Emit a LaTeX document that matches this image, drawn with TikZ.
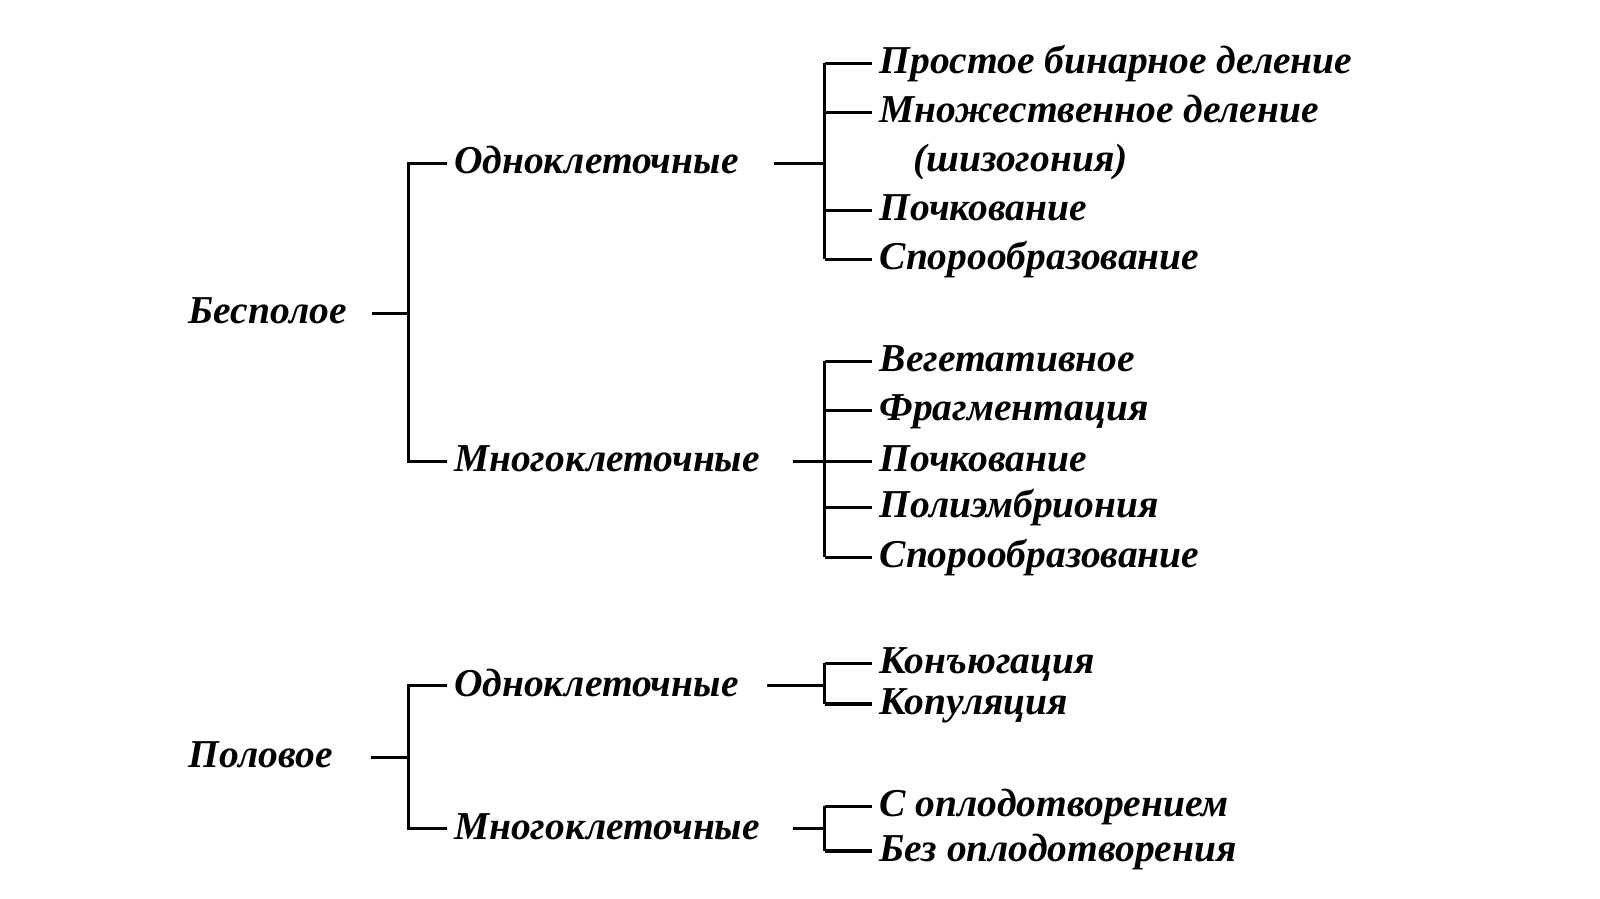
\documentclass[tikz,border=0pt]{standalone}
\usepackage{fontspec}
\setmainfont{Liberation Serif}
\usetikzlibrary{calc}
\tikzset{
 lbl/.style={font=\fontsize{39.5}{47}\selectfont\bfseries\itshape, inner ysep=0pt, inner xsep=7pt, text height=27pt, text depth=6pt, anchor=west},
 brk/.style={black, line width=3.2pt}
}

\begin{document}
\begin{tikzpicture}[x=1.0204pt,y=-1.0204pt]
\useasboundingbox (0,0) rectangle (1568,881);
% Бесполое
\node[lbl] (bes) at (178,307) {Бесполое};
\node[lbl] (bodn) at (438,160) {Одноклеточные};
\node[lbl] (bmn) at (438,452) {Многоклеточные};
\node[lbl] (l1) at (855,62) {Простое бинарное деление};
\node[lbl] (l2) at (855,110) {Множественное деление};
\node[lbl] (shiz) at (888,158) {(шизогония)};
\node[lbl] (l3) at (855,206) {Почкование};
\node[lbl] (l4) at (855,254) {Спорообразование};
\node[lbl] (l6) at (855,354) {Вегетативное};
\node[lbl] (l7) at (855,402) {Фрагментация};
\node[lbl] (l8) at (855,452) {Почкование};
\node[lbl] (l9) at (855,497) {Полиэмбриония};
\node[lbl] (l10) at (855,546) {Спорообразование};
% Половое
\node[lbl] (pol) at (178,742) {Половое};
\node[lbl] (podn) at (438,672) {Одноклеточные};
\node[lbl] (pmn) at (438,812) {Многоклеточные};
\node[lbl] (l11) at (855,650) {Конъюгация};
\node[lbl] (l12) at (855,690) {Копуляция};
\node[lbl] (l13) at (855,790) {С оплодотворением};
\node[lbl] (l14) at (855,834) {Без оплодотворения};

\coordinate (jb) at (400,307);
\coordinate (ja) at (808,160);
\coordinate (jc) at (808,452);
\coordinate (jp) at (400,742);
\coordinate (jd) at (808,672);
\coordinate (je) at (808,812);

\draw[brk] ([xshift=18pt]bes.east) -- (jb);
\draw[brk] (bodn.west) -| (jb |- bmn.west) -- (bmn.west);
\draw[brk] ([xshift=28pt]bodn.east) -- (ja);
\draw[brk] (ja |- l1.west) -- (ja |- l4.west);
\foreach \n in {l1,l2,l3,l4} \draw[brk] (ja |- \n.west) -- (\n.west);
\draw[brk] ([xshift=26pt]bmn.east) -- (l8.west);
\draw[brk] (jc |- l6.west) -- (jc |- l10.west);
\foreach \n in {l6,l7,l9,l10} \draw[brk] (jc |- \n.west) -- (\n.west);

\draw[brk] ([xshift=31pt]pol.east) -- (jp);
\draw[brk] (podn.west) -| (jp |- pmn.west) -- (pmn.west);
\draw[brk] ([xshift=21pt]podn.east) -- (jd);
\draw[brk] (jd |- l11.west) -- (jd |- l12.west);
\foreach \n in {l11,l12} \draw[brk] (jd |- \n.west) -- (\n.west);
\draw[brk] ([xshift=26pt]pmn.east) -- (je);
\draw[brk] (je |- l13.west) -- (je |- l14.west);
\foreach \n in {l13,l14} \draw[brk] (je |- \n.west) -- (\n.west);
\end{tikzpicture}
\end{document}
